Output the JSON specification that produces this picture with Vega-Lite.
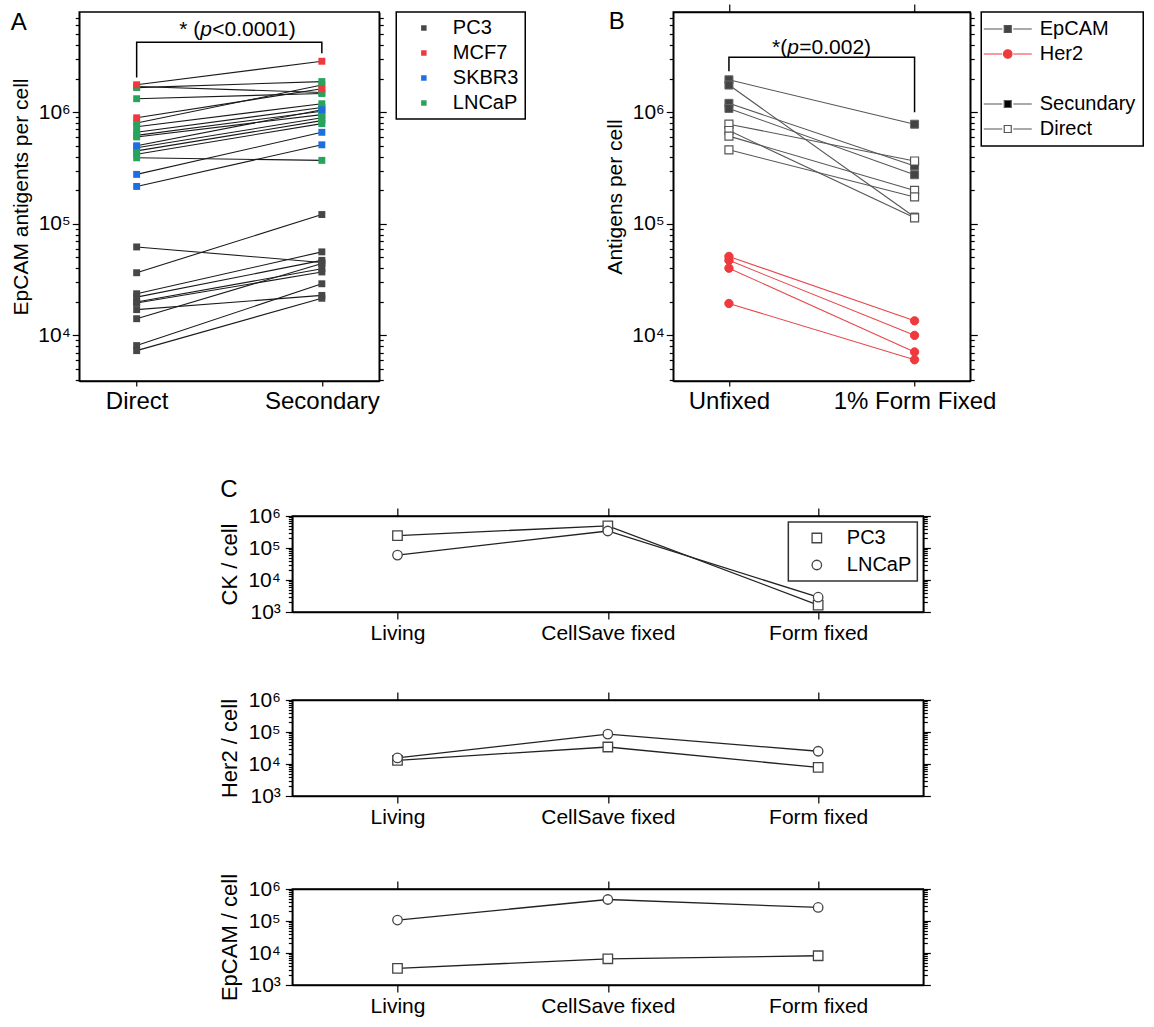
{
"$schema":"https://vega.github.io/schema/vega-lite/v6.json",
"background":"white",
"padding":{"left":10,"top":2,"right":5,"bottom":5},
"config":{
 "font":"Liberation Sans",
 "view":{"stroke":"black","strokeWidth":1.5},
 "axis":{"domainColor":"black","domainWidth":1.5,"tickColor":"black","tickWidth":1.2,"labelColor":"black","titleColor":"black","titleFontWeight":"normal","grid":false,"labelFont":"Liberation Sans","titleFont":"Liberation Sans","labelOverlap":false,"labelFlush":false},
 "legend":{"labelFont":"Liberation Sans","labelColor":"black","strokeWidth":1.5},
 "title":{"fontWeight":"normal","color":"black","font":"Liberation Sans"},
 "text":{"font":"Liberation Sans","color":"black"}
},
"datasets":{
 "A":[
  {"pair":"a3","cell":"LNCaP","cond":"Direct","value":1660000},{"pair":"a3","cell":"LNCaP","cond":"Secondary","value":1880000},
  {"pair":"a4","cell":"LNCaP","cond":"Direct","value":1700000},{"pair":"a4","cell":"LNCaP","cond":"Secondary","value":1500000},
  {"pair":"a5","cell":"LNCaP","cond":"Direct","value":1320000},{"pair":"a5","cell":"LNCaP","cond":"Secondary","value":1470000},
  {"pair":"a6","cell":"LNCaP","cond":"Direct","value":800000},{"pair":"a6","cell":"LNCaP","cond":"Secondary","value":1750000},
  {"pair":"a7","cell":"LNCaP","cond":"Direct","value":740000},{"pair":"a7","cell":"LNCaP","cond":"Secondary","value":1190000},
  {"pair":"a8","cell":"LNCaP","cond":"Direct","value":660000},{"pair":"a8","cell":"LNCaP","cond":"Secondary","value":1100000},
  {"pair":"a9","cell":"LNCaP","cond":"Direct","value":620000},{"pair":"a9","cell":"LNCaP","cond":"Secondary","value":1020000},
  {"pair":"a10","cell":"LNCaP","cond":"Direct","value":600000},{"pair":"a10","cell":"LNCaP","cond":"Secondary","value":950000},
  {"pair":"a11","cell":"LNCaP","cond":"Direct","value":480000},{"pair":"a11","cell":"LNCaP","cond":"Secondary","value":890000},
  {"pair":"a12","cell":"LNCaP","cond":"Direct","value":450000},{"pair":"a12","cell":"LNCaP","cond":"Secondary","value":840000},
  {"pair":"a13","cell":"LNCaP","cond":"Direct","value":420000},{"pair":"a13","cell":"LNCaP","cond":"Secondary","value":790000},
  {"pair":"a14","cell":"LNCaP","cond":"Direct","value":390000},{"pair":"a14","cell":"LNCaP","cond":"Secondary","value":370000},
  {"pair":"a15","cell":"SKBR3","cond":"Direct","value":500000},{"pair":"a15","cell":"SKBR3","cond":"Secondary","value":1050000},
  {"pair":"a16","cell":"SKBR3","cond":"Direct","value":277000},{"pair":"a16","cell":"SKBR3","cond":"Secondary","value":660000},
  {"pair":"a17","cell":"SKBR3","cond":"Direct","value":216000},{"pair":"a17","cell":"SKBR3","cond":"Secondary","value":510000},
  {"pair":"a1","cell":"MCF7","cond":"Direct","value":1760000},{"pair":"a1","cell":"MCF7","cond":"Secondary","value":2860000},
  {"pair":"a2","cell":"MCF7","cond":"Direct","value":890000},{"pair":"a2","cell":"MCF7","cond":"Secondary","value":1620000},
  {"pair":"a18","cell":"PC3","cond":"Direct","value":62000},{"pair":"a18","cell":"PC3","cond":"Secondary","value":45000},
  {"pair":"a19","cell":"PC3","cond":"Direct","value":36400},{"pair":"a19","cell":"PC3","cond":"Secondary","value":121000},
  {"pair":"a20","cell":"PC3","cond":"Direct","value":23600},{"pair":"a20","cell":"PC3","cond":"Secondary","value":56000},
  {"pair":"a21","cell":"PC3","cond":"Direct","value":22000},{"pair":"a21","cell":"PC3","cond":"Secondary","value":47000},
  {"pair":"a22","cell":"PC3","cond":"Direct","value":19900},{"pair":"a22","cell":"PC3","cond":"Secondary","value":39500},
  {"pair":"a23","cell":"PC3","cond":"Direct","value":19500},{"pair":"a23","cell":"PC3","cond":"Secondary","value":37000},
  {"pair":"a24","cell":"PC3","cond":"Direct","value":17000},{"pair":"a24","cell":"PC3","cond":"Secondary","value":22800},
  {"pair":"a25","cell":"PC3","cond":"Direct","value":14100},{"pair":"a25","cell":"PC3","cond":"Secondary","value":44000},
  {"pair":"a26","cell":"PC3","cond":"Direct","value":8100},{"pair":"a26","cell":"PC3","cond":"Secondary","value":29000},
  {"pair":"a27","cell":"PC3","cond":"Direct","value":7300},{"pair":"a27","cell":"PC3","cond":"Secondary","value":21500}
 ],
 "bracketA":[
  {"cond":"Direct","value":2050000,"k":1},{"cond":"Direct","value":4240000,"k":2},
  {"cond":"Secondary","value":4240000,"k":3},{"cond":"Secondary","value":3370000,"k":4}
 ],
 "annA":[{"value":4820000,"t1":"* (","t2":"p","t3":"<0.0001)"}],
 "B":[
  {"pair":"b1","series":"Secundary","antigen":"EpCAM","cond":"Unfixed","value":1950000},{"pair":"b1","series":"Secundary","antigen":"EpCAM","cond":"1% Form Fixed","value":780000},
  {"pair":"b2","series":"Secundary","antigen":"EpCAM","cond":"Unfixed","value":1750000},{"pair":"b2","series":"Secundary","antigen":"EpCAM","cond":"1% Form Fixed","value":115000},
  {"pair":"b3","series":"Secundary","antigen":"EpCAM","cond":"Unfixed","value":1200000},{"pair":"b3","series":"Secundary","antigen":"EpCAM","cond":"1% Form Fixed","value":330000},
  {"pair":"b4","series":"Secundary","antigen":"EpCAM","cond":"Unfixed","value":1080000},{"pair":"b4","series":"Secundary","antigen":"EpCAM","cond":"1% Form Fixed","value":275000},
  {"pair":"b5","series":"Direct","antigen":"EpCAM","cond":"Unfixed","value":780000},{"pair":"b5","series":"Direct","antigen":"EpCAM","cond":"1% Form Fixed","value":365000},
  {"pair":"b6","series":"Direct","antigen":"EpCAM","cond":"Unfixed","value":685000},{"pair":"b6","series":"Direct","antigen":"EpCAM","cond":"1% Form Fixed","value":113000},
  {"pair":"b7","series":"Direct","antigen":"EpCAM","cond":"Unfixed","value":610000},{"pair":"b7","series":"Direct","antigen":"EpCAM","cond":"1% Form Fixed","value":199000},
  {"pair":"b8","series":"Direct","antigen":"EpCAM","cond":"Unfixed","value":460000},{"pair":"b8","series":"Direct","antigen":"EpCAM","cond":"1% Form Fixed","value":174000},
  {"pair":"h1","series":"Her2","antigen":"Her2","cond":"Unfixed","value":51000},{"pair":"h1","series":"Her2","antigen":"Her2","cond":"1% Form Fixed","value":13500},
  {"pair":"h2","series":"Her2","antigen":"Her2","cond":"Unfixed","value":47000},{"pair":"h2","series":"Her2","antigen":"Her2","cond":"1% Form Fixed","value":10000},
  {"pair":"h3","series":"Her2","antigen":"Her2","cond":"Unfixed","value":40000},{"pair":"h3","series":"Her2","antigen":"Her2","cond":"1% Form Fixed","value":7100},
  {"pair":"h4","series":"Her2","antigen":"Her2","cond":"Unfixed","value":19300},{"pair":"h4","series":"Her2","antigen":"Her2","cond":"1% Form Fixed","value":6050}
 ],
 "bracketB":[
  {"cond":"Unfixed","value":2330000,"k":1},{"cond":"Unfixed","value":3100000,"k":2},
  {"cond":"1% Form Fixed","value":3100000,"k":3},{"cond":"1% Form Fixed","value":1000000,"k":4}
 ],
 "annB":[{"value":3300000,"t1":"*(","t2":"p","t3":"=0.002)"}],
 "legendB":[{"key":"EpCAM"},{"key":"Her2"},{"key":" "},{"key":"Secundary"},{"key":"Direct"}],
 "C":[
  {"marker":"CK","cell":"PC3","cond":"Living","value":245000},
  {"marker":"CK","cell":"PC3","cond":"CellSave fixed","value":490000},
  {"marker":"CK","cell":"PC3","cond":"Form fixed","value":1650},
  {"marker":"CK","cell":"LNCaP","cond":"Living","value":60000},
  {"marker":"CK","cell":"LNCaP","cond":"CellSave fixed","value":340000},
  {"marker":"CK","cell":"LNCaP","cond":"Form fixed","value":2900},
  {"marker":"Her2","cell":"PC3","cond":"Living","value":13000},
  {"marker":"Her2","cell":"PC3","cond":"CellSave fixed","value":34000},
  {"marker":"Her2","cell":"PC3","cond":"Form fixed","value":7800},
  {"marker":"Her2","cell":"LNCaP","cond":"Living","value":15500},
  {"marker":"Her2","cell":"LNCaP","cond":"CellSave fixed","value":86000},
  {"marker":"Her2","cell":"LNCaP","cond":"Form fixed","value":25000},
  {"marker":"EpCAM","cell":"PC3","cond":"Living","value":3300},
  {"marker":"EpCAM","cell":"PC3","cond":"CellSave fixed","value":6600},
  {"marker":"EpCAM","cell":"PC3","cond":"Form fixed","value":8200},
  {"marker":"EpCAM","cell":"LNCaP","cond":"Living","value":107000},
  {"marker":"EpCAM","cell":"LNCaP","cond":"CellSave fixed","value":470000},
  {"marker":"EpCAM","cell":"LNCaP","cond":"Form fixed","value":265000}
 ]
},
"center":true,
"spacing":64,
"resolve":{"scale":{"color":"independent","shape":"independent","fill":"independent","stroke":"independent","x":"independent","y":"independent"},"legend":{"color":"independent","shape":"independent","fill":"independent","stroke":"independent"}},
"vconcat":[
 {"hconcat":[
  {"width":300,"height":369,
   "title":{"text":"A","anchor":"start","frame":"bounds","offset":-28,"fontSize":24},
   "layer":[
    {"data":{"name":"A"},"mark":{"type":"line","color":"#1a1a1a","strokeWidth":1.1},
     "encoding":{
      "x":{"field":"cond","type":"nominal","scale":{"type":"point","padding":0.31,"domain":["Direct","Secondary"]},"axis":{"title":null,"labelAngle":0,"labelFontSize":24,"tickSize":5,"labelPadding":3}},
      "y":{"field":"value","type":"quantitative","scale":{"type":"log","domain":[3900,7900000],"nice":false},
        "axis":{"title":"EpCAM antigents per cell","titleFontSize":21,"titlePadding":6,"labelFontSize":21,"labelPadding":2,
          "values":[4000,5000,6000,7000,8000,9000,10000,20000,30000,40000,50000,60000,70000,80000,90000,100000,200000,300000,400000,500000,600000,700000,800000,900000,1000000,2000000,3000000,4000000,5000000,6000000,7000000],
          "labelExpr":"datum.value==10000?'10⁴':datum.value==100000?'10⁵':datum.value==1000000?'10⁶':''",
          "tickSize":{"condition":{"test":"datum.value==10000||datum.value==100000||datum.value==1000000","value":7},"value":4}}},
      "detail":{"field":"pair","type":"nominal"}}},
    {"data":{"name":"A"},"mark":{"type":"point","shape":"square","filled":true,"size":48,"opacity":1},
     "encoding":{
      "x":{"field":"cond","type":"nominal","axis":null},
      "y":{"field":"value","type":"quantitative",
        "axis":{"orient":"right","title":null,"labels":false,
          "values":[4000,5000,6000,7000,8000,9000,10000,20000,30000,40000,50000,60000,70000,80000,90000,100000,200000,300000,400000,500000,600000,700000,800000,900000,1000000,2000000,3000000,4000000,5000000,6000000,7000000],
          "tickSize":{"condition":{"test":"datum.value==10000||datum.value==100000||datum.value==1000000","value":7},"value":4}}},
      "color":{"field":"cell","type":"nominal","scale":{"domain":["PC3","MCF7","SKBR3","LNCaP"],"range":["#474747","#ee3a3f","#1f6ee0","#27a35d"]},
        "legend":{"title":null,"orient":"right","offset":9,"padding":6,"strokeColor":"black","symbolType":"square","symbolSize":30,"symbolOffset":11.6,"labelOffset":19,"labelFontSize":20,"rowPadding":5}}}},
    {"data":{"name":"bracketA"},"mark":{"type":"line","color":"black","strokeWidth":1.5},
     "encoding":{"x":{"field":"cond","type":"nominal","axis":null},"y":{"field":"value","type":"quantitative","axis":null},"order":{"field":"k","type":"quantitative"}}},
    {"data":{"name":"annA"},"mark":{"type":"text","align":"right","baseline":"alphabetic","dx":-29,"fontSize":21},
     "encoding":{"y":{"field":"value","type":"quantitative","axis":null},"text":{"field":"t1"}}},
    {"data":{"name":"annA"},"mark":{"type":"text","align":"left","baseline":"alphabetic","dx":-29,"fontSize":21,"fontStyle":"italic"},
     "encoding":{"y":{"field":"value","type":"quantitative","axis":null},"text":{"field":"t2"}}},
    {"data":{"name":"annA"},"mark":{"type":"text","align":"left","baseline":"alphabetic","dx":-17,"fontSize":21},
     "encoding":{"y":{"field":"value","type":"quantitative","axis":null},"text":{"field":"t3"}}}
   ],
   "resolve":{"axis":{"x":"independent","y":"independent"}}
  },
  {"width":297,"height":369,
   "title":{"text":"B","anchor":"start","frame":"bounds","offset":-31,"fontSize":24,"dx":4},
   "layer":[
    {"data":{"name":"B"},"transform":[{"filter":{"field":"antigen","equal":"EpCAM"}}],"mark":{"type":"line","color":"#555555","strokeWidth":1.1},
     "encoding":{
      "x":{"field":"cond","type":"nominal","scale":{"type":"point","padding":0.3,"domain":["Unfixed","1% Form Fixed"]},"axis":{"title":null,"labelAngle":0,"labelFontSize":24,"tickSize":5,"labelPadding":3}},
      "y":{"field":"value","type":"quantitative","scale":{"type":"log","domain":[3900,7900000],"nice":false},
        "axis":{"title":"Antigens per cell","titleFontSize":21,"titlePadding":6,"labelFontSize":21,"labelPadding":2,
          "values":[4000,5000,6000,7000,8000,9000,10000,20000,30000,40000,50000,60000,70000,80000,90000,100000,200000,300000,400000,500000,600000,700000,800000,900000,1000000,2000000,3000000,4000000,5000000,6000000,7000000],
          "labelExpr":"datum.value==10000?'10⁴':datum.value==100000?'10⁵':datum.value==1000000?'10⁶':''",
          "tickSize":{"condition":{"test":"datum.value==10000||datum.value==100000||datum.value==1000000","value":7},"value":4}}},
      "detail":{"field":"pair","type":"nominal"}}},
    {"data":{"name":"B"},"transform":[{"filter":{"field":"antigen","equal":"Her2"}}],"mark":{"type":"line","color":"#e8474b","strokeWidth":1.1},
     "encoding":{"x":{"field":"cond","type":"nominal","axis":null},"y":{"field":"value","type":"quantitative","axis":null},"detail":{"field":"pair","type":"nominal"}}},
    {"data":{"name":"B"},"transform":[{"filter":{"field":"series","equal":"Secundary"}}],"mark":{"type":"point","shape":"square","filled":true,"fill":"#444444","stroke":"#666666","strokeWidth":1,"size":64,"opacity":1},
     "encoding":{
      "x":{"field":"cond","type":"nominal","axis":{"orient":"top","title":null,"labels":false,"tickSize":8}},
      "y":{"field":"value","type":"quantitative",
        "axis":{"orient":"right","title":null,"labels":false,
          "values":[4000,5000,6000,7000,8000,9000,10000,20000,30000,40000,50000,60000,70000,80000,90000,100000,200000,300000,400000,500000,600000,700000,800000,900000,1000000,2000000,3000000,4000000,5000000,6000000,7000000],
          "tickSize":{"condition":{"test":"datum.value==10000||datum.value==100000||datum.value==1000000","value":7},"value":4}}}}},
    {"data":{"name":"B"},"transform":[{"filter":{"field":"series","equal":"Direct"}}],"mark":{"type":"point","shape":"square","filled":true,"fill":"white","stroke":"#555555","strokeWidth":1.2,"size":64,"opacity":1},
     "encoding":{"x":{"field":"cond","type":"nominal","axis":null},"y":{"field":"value","type":"quantitative","axis":null}}},
    {"data":{"name":"B"},"transform":[{"filter":{"field":"series","equal":"Her2"}}],"mark":{"type":"point","shape":"circle","filled":true,"fill":"#ee3a3e","stroke":"#ee3a3e","strokeWidth":1,"size":70,"opacity":1},
     "encoding":{"x":{"field":"cond","type":"nominal","axis":null},"y":{"field":"value","type":"quantitative","axis":null}}},
    {"data":{"name":"bracketB"},"mark":{"type":"line","color":"black","strokeWidth":1.5},
     "encoding":{"x":{"field":"cond","type":"nominal","axis":null},"y":{"field":"value","type":"quantitative","axis":null},"order":{"field":"k","type":"quantitative"}}},
    {"data":{"name":"annB"},"mark":{"type":"text","align":"right","baseline":"alphabetic","dx":-34.5,"fontSize":21},
     "encoding":{"y":{"field":"value","type":"quantitative","axis":null},"text":{"field":"t1"}}},
    {"data":{"name":"annB"},"mark":{"type":"text","align":"left","baseline":"alphabetic","dx":-34.5,"fontSize":21,"fontStyle":"italic"},
     "encoding":{"y":{"field":"value","type":"quantitative","axis":null},"text":{"field":"t2"}}},
    {"data":{"name":"annB"},"mark":{"type":"text","align":"left","baseline":"alphabetic","dx":-22.5,"fontSize":21},
     "encoding":{"y":{"field":"value","type":"quantitative","axis":null},"text":{"field":"t3"}}},
    {"data":{"name":"legendB"},"mark":{"type":"point","opacity":0},
     "encoding":{
      "shape":{"field":"key","type":"nominal","scale":{"domain":["EpCAM","Her2"," ","Secundary","Direct"],"range":["M-4.8,0H-1.1M1.1,0H4.8M-0.7,-0.7H0.7V0.7H-0.7Z","M-4.8,0H-1.1M1.1,0H4.8M0.85,0A0.85,0.85,0,1,1,-0.85,0A0.85,0.85,0,1,1,0.85,0Z","M-1,-1L1,1","M-4.8,0H-1.1M1.1,0H4.8M-0.7,-0.7H0.7V0.7H-0.7Z","M-4.8,0H-1.1M1.1,0H4.8M-0.7,-0.7H0.7V0.7H-0.7Z"]},
        "legend":{"title":null,"orient":"right","offset":3,"padding":7,"strokeColor":"black","symbolSize":100,"symbolOffset":9.5,"labelOffset":22,"labelFontSize":20,"rowPadding":5,"symbolOpacity":1,"symbolStrokeWidth":1.2}},
      "fill":{"field":"key","type":"nominal","scale":{"domain":["EpCAM","Her2"," ","Secundary","Direct"],"range":["#444444","#ee3a3e","transparent","#000000","#ffffff"]},
        "legend":{"title":null,"orient":"right","offset":3,"padding":7,"strokeColor":"black","symbolSize":100,"symbolOffset":9.5,"labelOffset":22,"labelFontSize":20,"rowPadding":5,"symbolOpacity":1,"symbolStrokeWidth":1.2}},
      "stroke":{"field":"key","type":"nominal","scale":{"domain":["EpCAM","Her2"," ","Secundary","Direct"],"range":["#555555","#ee3a3e","transparent","#555555","#555555"]},
        "legend":{"title":null,"orient":"right","offset":3,"padding":7,"strokeColor":"black","symbolSize":100,"symbolOffset":9.5,"labelOffset":22,"labelFontSize":20,"rowPadding":5,"symbolOpacity":1,"symbolStrokeWidth":1.2}}}}
   ],
   "resolve":{"axis":{"x":"independent","y":"independent"}}
  }
 ],"spacing":76,
 "resolve":{"scale":{"color":"independent","shape":"independent","fill":"independent","stroke":"independent","x":"independent","y":"independent"},"legend":{"color":"independent","shape":"independent","fill":"independent","stroke":"independent"}}},
 {"title":{"text":"C","anchor":"start","fontSize":24,"offset":2,"dx":2},
  "spacing":44,
  "resolve":{"scale":{"shape":"independent","fill":"independent","stroke":"independent","x":"independent","y":"independent"},"legend":{"shape":"independent","fill":"independent","stroke":"independent"}},
  "vconcat":[
   {"width":631,"height":96,"data":{"name":"C"},"transform":[{"filter":{"field":"marker","equal":"CK"}}],
    "layer":[
     {"mark":{"type":"line","color":"#222222","strokeWidth":1.3},
      "encoding":{
       "x":{"field":"cond","type":"nominal","scale":{"type":"point","padding":0.5,"domain":["Living","CellSave fixed","Form fixed"]},"axis":{"title":null,"labelAngle":0,"labelFontSize":21,"tickSize":7,"labelPadding":3}},
       "y":{"field":"value","type":"quantitative","scale":{"type":"log","domain":[1000,1000000],"nice":false},
         "axis":{"title":"CK / cell","titleFontSize":22,"titlePadding":6,"labelFontSize":21,"labelPadding":5,
           "values":[1000,2000,3000,4000,5000,6000,7000,8000,9000,10000,20000,30000,40000,50000,60000,70000,80000,90000,100000,200000,300000,400000,500000,600000,700000,800000,900000,1000000],
           "labelExpr":"datum.value==1000?'10³':datum.value==10000?'10⁴':datum.value==100000?'10⁵':datum.value==1000000?'10⁶':''",
           "tickSize":{"condition":{"test":"datum.value==1000||datum.value==10000||datum.value==100000||datum.value==1000000","value":7},"value":4}}},
       "detail":{"field":"cell","type":"nominal"}}},
     {"mark":{"type":"point","filled":true,"strokeWidth":1.3,"size":90,"opacity":1},
      "encoding":{
       "x":{"field":"cond","type":"nominal","axis":{"orient":"top","title":null,"labels":false,"tickSize":8}},
       "y":{"field":"value","type":"quantitative",
         "axis":{"orient":"right","title":null,"labels":false,
           "values":[1000,2000,3000,4000,5000,6000,7000,8000,9000,10000,20000,30000,40000,50000,60000,70000,80000,90000,100000,200000,300000,400000,500000,600000,700000,800000,900000,1000000],
           "tickSize":{"condition":{"test":"datum.value==1000||datum.value==10000||datum.value==100000||datum.value==1000000","value":7},"value":4}}},
       "shape":{"field":"cell","type":"nominal","scale":{"domain":["PC3","LNCaP"],"range":["square","circle"]},
         "legend":{"title":null,"orient":"top-right","offset":6,"padding":6,"strokeColor":"#333333","symbolSize":90,"symbolOffset":12.5,"labelOffset":20,"labelFontSize":20,"rowPadding":7,"symbolOpacity":1,"symbolStrokeWidth":1.3}},
       "stroke":{"field":"cell","type":"nominal","scale":{"domain":["PC3","LNCaP"],"range":["#444444","#444444"]},
         "legend":{"title":null,"orient":"top-right","offset":6,"padding":6,"strokeColor":"#333333","symbolSize":90,"symbolOffset":12.5,"labelOffset":20,"labelFontSize":20,"rowPadding":7,"symbolOpacity":1,"symbolStrokeWidth":1.3}},
       "fill":{"field":"cell","type":"nominal","scale":{"domain":["PC3","LNCaP"],"range":["#ffffff","#ffffff"]},
         "legend":{"title":null,"orient":"top-right","offset":6,"padding":6,"strokeColor":"#333333","symbolSize":90,"symbolOffset":12.5,"labelOffset":20,"labelFontSize":20,"rowPadding":7,"symbolOpacity":1,"symbolStrokeWidth":1.3}}}}
    ],
    "resolve":{"axis":{"x":"independent","y":"independent"}}
   },
   {"width":631,"height":96,"data":{"name":"C"},"transform":[{"filter":{"field":"marker","equal":"Her2"}}],
    "layer":[
     {"mark":{"type":"line","color":"#222222","strokeWidth":1.3},
      "encoding":{
       "x":{"field":"cond","type":"nominal","scale":{"type":"point","padding":0.5,"domain":["Living","CellSave fixed","Form fixed"]},"axis":{"title":null,"labelAngle":0,"labelFontSize":21,"tickSize":7,"labelPadding":3}},
       "y":{"field":"value","type":"quantitative","scale":{"type":"log","domain":[1000,1000000],"nice":false},
         "axis":{"title":"Her2 / cell","titleFontSize":22,"titlePadding":6,"labelFontSize":21,"labelPadding":5,
           "values":[1000,2000,3000,4000,5000,6000,7000,8000,9000,10000,20000,30000,40000,50000,60000,70000,80000,90000,100000,200000,300000,400000,500000,600000,700000,800000,900000,1000000],
           "labelExpr":"datum.value==1000?'10³':datum.value==10000?'10⁴':datum.value==100000?'10⁵':datum.value==1000000?'10⁶':''",
           "tickSize":{"condition":{"test":"datum.value==1000||datum.value==10000||datum.value==100000||datum.value==1000000","value":7},"value":4}}},
       "detail":{"field":"cell","type":"nominal"}}},
     {"mark":{"type":"point","filled":true,"fill":"white","stroke":"#444444","strokeWidth":1.3,"size":90,"opacity":1},
      "encoding":{
       "x":{"field":"cond","type":"nominal","axis":{"orient":"top","title":null,"labels":false,"tickSize":8}},
       "y":{"field":"value","type":"quantitative",
         "axis":{"orient":"right","title":null,"labels":false,
           "values":[1000,2000,3000,4000,5000,6000,7000,8000,9000,10000,20000,30000,40000,50000,60000,70000,80000,90000,100000,200000,300000,400000,500000,600000,700000,800000,900000,1000000],
           "tickSize":{"condition":{"test":"datum.value==1000||datum.value==10000||datum.value==100000||datum.value==1000000","value":7},"value":4}}},
       "shape":{"field":"cell","type":"nominal","scale":{"domain":["PC3","LNCaP"],"range":["square","circle"]},"legend":null}}}
    ],
    "resolve":{"axis":{"x":"independent","y":"independent"}}
   },
   {"width":631,"height":96,"data":{"name":"C"},"transform":[{"filter":{"field":"marker","equal":"EpCAM"}}],
    "layer":[
     {"mark":{"type":"line","color":"#222222","strokeWidth":1.3},
      "encoding":{
       "x":{"field":"cond","type":"nominal","scale":{"type":"point","padding":0.5,"domain":["Living","CellSave fixed","Form fixed"]},"axis":{"title":null,"labelAngle":0,"labelFontSize":21,"tickSize":7,"labelPadding":3}},
       "y":{"field":"value","type":"quantitative","scale":{"type":"log","domain":[1000,1000000],"nice":false},
         "axis":{"title":"EpCAM / cell","titleFontSize":22,"titlePadding":6,"labelFontSize":21,"labelPadding":5,
           "values":[1000,2000,3000,4000,5000,6000,7000,8000,9000,10000,20000,30000,40000,50000,60000,70000,80000,90000,100000,200000,300000,400000,500000,600000,700000,800000,900000,1000000],
           "labelExpr":"datum.value==1000?'10³':datum.value==10000?'10⁴':datum.value==100000?'10⁵':datum.value==1000000?'10⁶':''",
           "tickSize":{"condition":{"test":"datum.value==1000||datum.value==10000||datum.value==100000||datum.value==1000000","value":7},"value":4}}},
       "detail":{"field":"cell","type":"nominal"}}},
     {"mark":{"type":"point","filled":true,"fill":"white","stroke":"#444444","strokeWidth":1.3,"size":90,"opacity":1},
      "encoding":{
       "x":{"field":"cond","type":"nominal","axis":{"orient":"top","title":null,"labels":false,"tickSize":8}},
       "y":{"field":"value","type":"quantitative",
         "axis":{"orient":"right","title":null,"labels":false,
           "values":[1000,2000,3000,4000,5000,6000,7000,8000,9000,10000,20000,30000,40000,50000,60000,70000,80000,90000,100000,200000,300000,400000,500000,600000,700000,800000,900000,1000000],
           "tickSize":{"condition":{"test":"datum.value==1000||datum.value==10000||datum.value==100000||datum.value==1000000","value":7},"value":4}}},
       "shape":{"field":"cell","type":"nominal","scale":{"domain":["PC3","LNCaP"],"range":["square","circle"]},"legend":null}}}
    ],
    "resolve":{"axis":{"x":"independent","y":"independent"}}
   }
  ]
 }
]
}
